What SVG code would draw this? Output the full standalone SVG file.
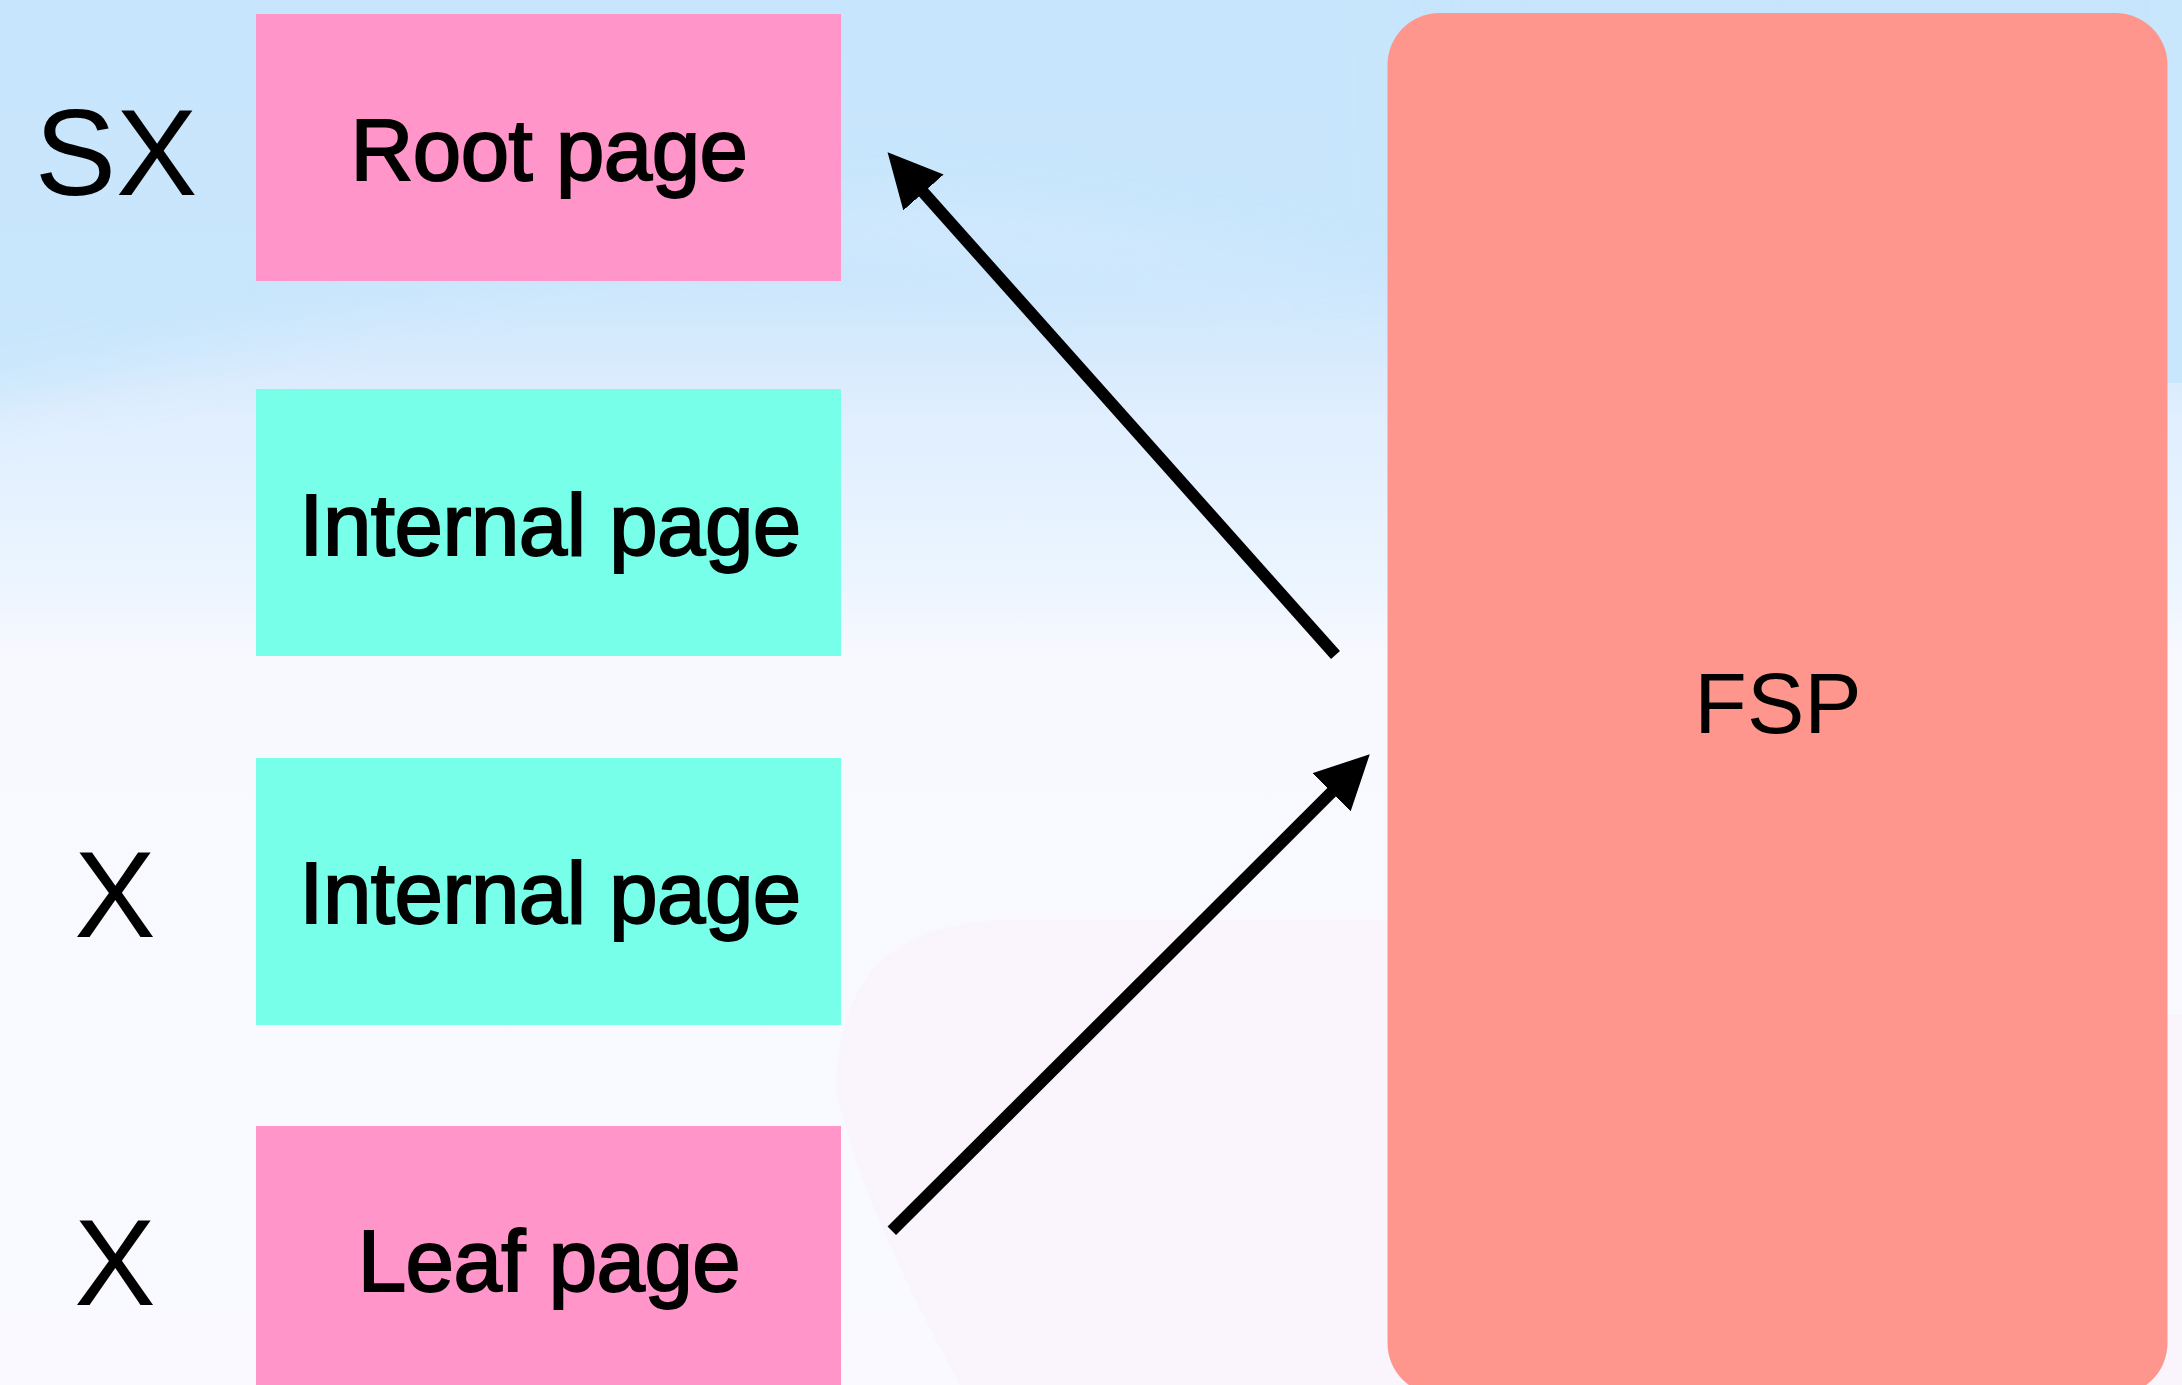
<svg xmlns="http://www.w3.org/2000/svg" width="2182" height="1385" viewBox="0 0 2182 1385">
  <style>
    .lbl { font-family: "Liberation Sans", Arial, Helvetica, sans-serif; fill: #000; text-anchor: middle; }
    .page { font-size: 87px; stroke: #000; stroke-width: 2; letter-spacing: -0.5px; }
    .title { font-size: 86px; }
    .lock { font-size: 122px; }
    .leafish { fill: #ff95c8; }
    .inner { fill: #78ffe9; }
    .fsp { fill: #ff968d; }
    .conn { stroke: #000; stroke-width: 12; fill: none; stroke-linecap: butt; }
  </style>
  <defs>
    <linearGradient id="sky" x1="0" y1="0" x2="0" y2="1385" gradientUnits="userSpaceOnUse">
      <stop offset="0" stop-color="#c6e5fc"/>
      <stop offset="0.2" stop-color="#cbe6fc"/>
      <stop offset="0.3" stop-color="#e0eefe"/>
      <stop offset="0.42" stop-color="#ebf5ff"/>
      <stop offset="0.47" stop-color="#f8f8ff"/>
      <stop offset="1" stop-color="#f9f9ff"/>
    </linearGradient>
    <filter id="soft" x="-10%" y="-30%" width="120%" height="160%">
      <feGaussianBlur stdDeviation="28"/>
    </filter>
    <marker id="head" markerUnits="userSpaceOnUse" markerWidth="54" markerHeight="54"
            viewBox="0 0 54 54" refX="6" refY="27" orient="auto">
      <path d="M0,0 L54,27 L0,54 Z" fill="#000"/>
    </marker>
  </defs>

  <!-- backdrop -->
  <g id="backdrop">
    <rect x="0" y="0" width="2182" height="1385" fill="url(#sky)"/>
    <path d="M-100,-100 H1400 V285 C1200,240 1020,205 880,205 C620,210 320,330 -100,420 Z" fill="#c8e6fc" opacity="0.85" filter="url(#soft)"/>
    <path d="M1400,285 C1200,240 1020,205 880,205 C800,205 740,208 700,212 C760,240 1000,260 1400,300 Z" fill="#dbecfd" opacity="0.5" filter="url(#soft)"/>
    <rect x="2150" y="0" width="32" height="383" fill="#c8e6fc"/>
    <path d="M2182,1015 V1385 H960 C930,1330 860,1200 836,1090 C838,990 880,925 1000,920 H1400 V1015 Z" fill="#faf5fd"/>
  </g>

  <!-- lock labels -->
  <g id="locks">
    <text class="lbl lock" x="116" y="195">SX</text>
    <text class="lbl lock" x="115" y="937">X</text>
    <text class="lbl lock" x="115" y="1305">X</text>
  </g>

  <!-- B-tree pages -->
  <g id="root-page">
    <rect class="leafish" x="256" y="14" width="585" height="267"/>
    <text class="lbl page" x="549" y="180">Root page</text>
  </g>
  <g id="internal-page-1">
    <rect class="inner" x="256" y="389" width="585" height="267"/>
    <text class="lbl page" x="550" y="555">Internal page</text>
  </g>
  <g id="internal-page-2">
    <rect class="inner" x="256" y="758" width="585" height="267"/>
    <text class="lbl page" x="550" y="923">Internal page</text>
  </g>
  <g id="leaf-page">
    <rect class="leafish" x="256" y="1126" width="585" height="267"/>
    <text class="lbl page" x="549" y="1291">Leaf page</text>
  </g>

  <!-- file space header -->
  <g id="fsp">
    <rect class="fsp" x="1387.5" y="13" width="780" height="1382" rx="52" ry="52"/>
    <text class="lbl title" x="1778" y="733">FSP</text>
  </g>

  <!-- connectors -->
  <g id="connectors">
    <line class="conn" x1="1335.5" y1="655" x2="919.5" y2="188" marker-end="url(#head)"/>
    <line class="conn" x1="891.8" y1="1230.8" x2="1335.8" y2="788.1" marker-end="url(#head)"/>
  </g>
</svg>
